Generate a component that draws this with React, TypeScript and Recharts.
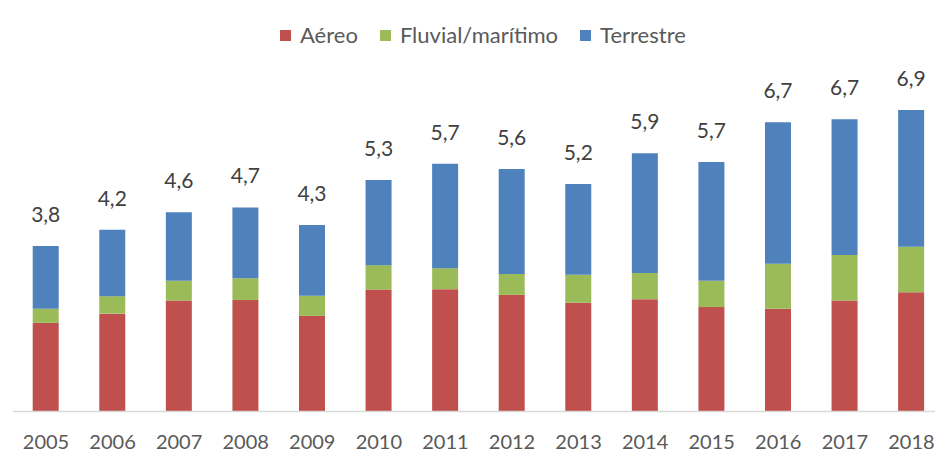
import React from 'react';
import { BarChart, Bar, XAxis, YAxis, Legend, LabelList } from 'recharts';

const years = ['2005', '2006', '2007', '2008', '2009', '2010', '2011', '2012', '2013', '2014', '2015', '2016', '2017', '2018'];
const aereo = [2.03, 2.24, 2.54, 2.55, 2.19, 2.79, 2.8, 2.67, 2.49, 2.57, 2.39, 2.35, 2.54, 2.73];
const fluvial = [0.32, 0.4, 0.45, 0.5, 0.46, 0.56, 0.48, 0.48, 0.64, 0.6, 0.6, 1.03, 1.04, 1.04];
const terrestre = [1.44, 1.52, 1.57, 1.62, 1.62, 1.95, 2.39, 2.4, 2.08, 2.74, 2.72, 3.24, 3.11, 3.13];
const totalLabels = ['3,8', '4,2', '4,6', '4,7', '4,3', '5,3', '5,7', '5,6', '5,2', '5,9', '5,7', '6,7', '6,7', '6,9'];

const seriesNames = ['Aéreo', 'Fluvial/marítimo', 'Terrestre'];
const seriesColors = ['#C0504D', '#9BBB59', '#4F81BD'];

const data = years.map((y, i) => ({
  year: y,
  aereo: aereo[i],
  fluvial: fluvial[i],
  terrestre: terrestre[i],
  label: totalLabels[i],
}));

const FONT = 'Lato, "Noto Sans", sans-serif';

const LegendContent = () => (
  <div style={{ height: 42, display: 'flex', alignItems: 'flex-start', paddingLeft: 280, fontFamily: FONT }}>
    {seriesNames.map((n, i) => (
      <div key={n} style={{ display: 'flex', alignItems: 'center', height: 30, marginRight: i < 2 ? 22 : 0 }}>
        <span style={{ width: 11, height: 11, background: seriesColors[i], display: 'inline-block', marginRight: 9 }} />
        <span style={{ fontSize: 22, color: '#595959', lineHeight: '30px' }}>{n}</span>
      </div>
    ))}
  </div>
);

export default function App() {
  return (
    <div style={{ position: 'fixed', left: 0, top: 0, width: 935, height: 452, overflow: 'hidden', background: '#fff' }}>
      <BarChart
        width={946}
        height={452}
        data={data}
        margin={{ top: 20, right: 1.3, left: 12.7, bottom: 10.5 }}
        barSize={26}
      >
        <Legend
          verticalAlign="top"
          align="left"
          wrapperStyle={{ left: 0, width: 946 }}
          content={<LegendContent />}
        />
        <XAxis
          dataKey="year"
          axisLine={{ stroke: '#D9D9D9', strokeWidth: 1.5 }}
          tickLine={false}
          tickMargin={17}
          height={30}
          interval={0}
          tick={{ fill: '#595959', fontSize: 20, fontFamily: FONT }}
        />
        <YAxis hide domain={[0, 8]} />
        <Bar dataKey="aereo" stackId="a" fill={seriesColors[0]} isAnimationActive={false} />
        <Bar dataKey="fluvial" stackId="a" fill={seriesColors[1]} isAnimationActive={false} />
        <Bar dataKey="terrestre" stackId="a" fill={seriesColors[2]} isAnimationActive={false}>
          <LabelList dataKey="label" position="top" offset={24} fill="#404040" fontSize={21} fontFamily={FONT} />
        </Bar>
      </BarChart>
    </div>
  );
}
